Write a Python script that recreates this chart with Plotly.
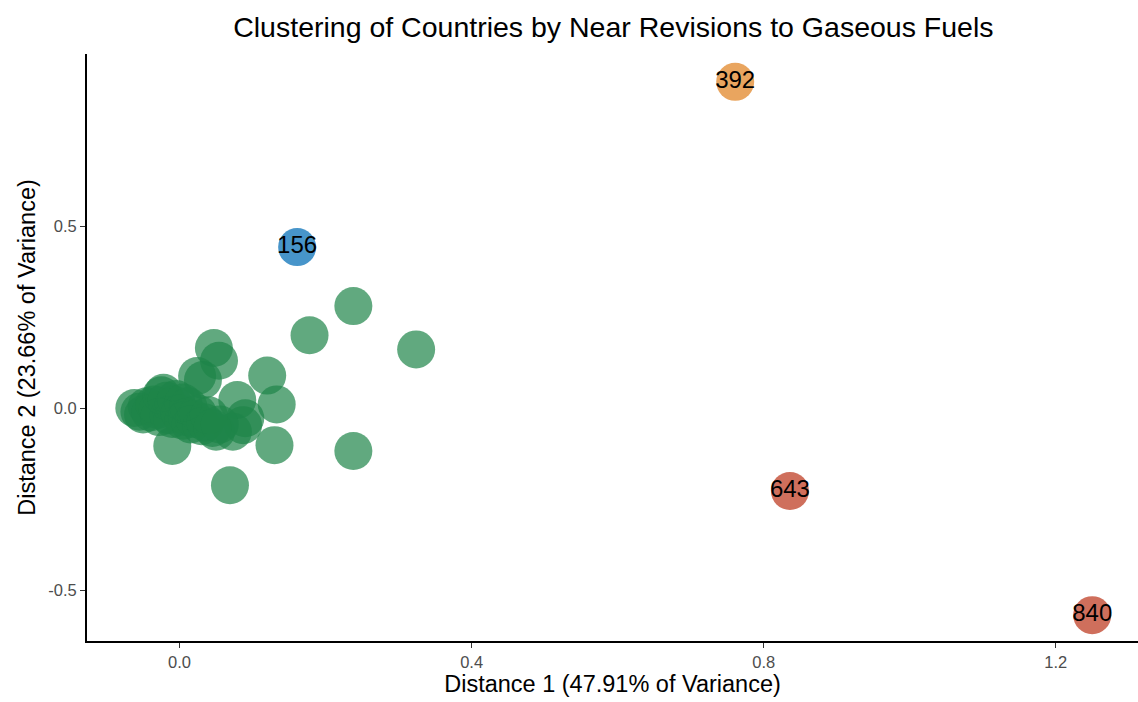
import plotly.graph_objects as go

# Main cluster (unlabelled countries)
green_x = [0.238, 0.178, 0.324, 0.120, 0.047, 0.054, 0.024, 0.032, 0.079, 0.133,
           0.090, 0.087, 0.073, 0.050, 0.130, 0.238, 0.069, -0.010,
           -0.062, -0.055, -0.050, -0.045, -0.040, -0.035, -0.030, -0.025, -0.022,
           -0.018, -0.015, -0.010, -0.008, -0.005, 0.000, 0.005, 0.010, 0.012,
           0.015, 0.020, 0.025, 0.030, 0.035, 0.005, -0.028, 0.040, 0.045, 0.055]
green_y = [0.280, 0.200, 0.161, 0.089, 0.165, 0.130, 0.088, 0.077, 0.022, 0.010,
           -0.028, -0.047, -0.065, -0.065, -0.102, -0.118, -0.212, -0.104,
           0.000, -0.010, -0.018, 0.005, -0.012, 0.010, -0.005, 0.035, 0.042,
           0.020, -0.020, -0.030, 0.010, 0.025, -0.015, -0.035, -0.025, 0.005,
           -0.045, -0.030, -0.015, -0.050, -0.040, 0.015, -0.025, -0.020, -0.055, -0.045]

# Outlying countries, labelled by code
out_labels = ["392", "156", "643", "840"]
out_x = [0.761, 0.161, 0.836, 1.250]
out_y = [0.896, 0.442, -0.228, -0.569]
out_colors = ["#E9A55F", "#4795CA", "#CF6F5C", "#CF6F5C"]

FONT = "Liberation Sans, Arial, sans-serif"

fig = go.Figure()
fig.add_trace(go.Scatter(
    x=green_x, y=green_y, mode="markers",
    marker=dict(size=38, color="rgba(30,132,73,0.7)", line=dict(width=0)),
    hoverinfo="x+y", showlegend=False,
))
fig.add_trace(go.Scatter(
    x=out_x, y=out_y, mode="markers+text", text=out_labels,
    textposition="middle center",
    textfont=dict(size=24, color="black", family=FONT),
    marker=dict(size=38, color=out_colors, line=dict(width=0)),
    showlegend=False,
))

axis_common = dict(
    showline=True, linecolor="black", linewidth=1.8,
    showgrid=False, zeroline=False,
    ticks="outside", ticklen=5, tickcolor="#333333", tickwidth=1.2,
    tickfont=dict(size=16.5, color="#4D4D4D"),
)

fig.update_layout(
    width=1138, height=702,
    margin=dict(l=87, r=0, t=54, b=61),
    paper_bgcolor="white", plot_bgcolor="white",
    font=dict(family=FONT, color="black"),
    title=dict(text="Clustering of Countries by Near Revisions to Gaseous Fuels",
               x=0.539, xanchor="center", y=0.962, yanchor="middle",
               font=dict(size=28.5, color="black")),
    xaxis=dict(axis_common, range=[-0.1268, 1.3127],
               tickvals=[0.0, 0.4, 0.8, 1.2], ticktext=["0.0", "0.4", "0.8", "1.2"],
               title=dict(text="Distance 1 (47.91% of Variance)", font=dict(size=23.5), standoff=6)),
    yaxis=dict(axis_common, range=[-0.640, 0.9725],
               tickvals=[-0.5, 0.0, 0.5], ticktext=["-0.5", "0.0", "0.5"],
               title=dict(text="Distance 2 (23.66% of Variance)", font=dict(size=23.5), standoff=6)),
)

fig.write_html("out.html")
